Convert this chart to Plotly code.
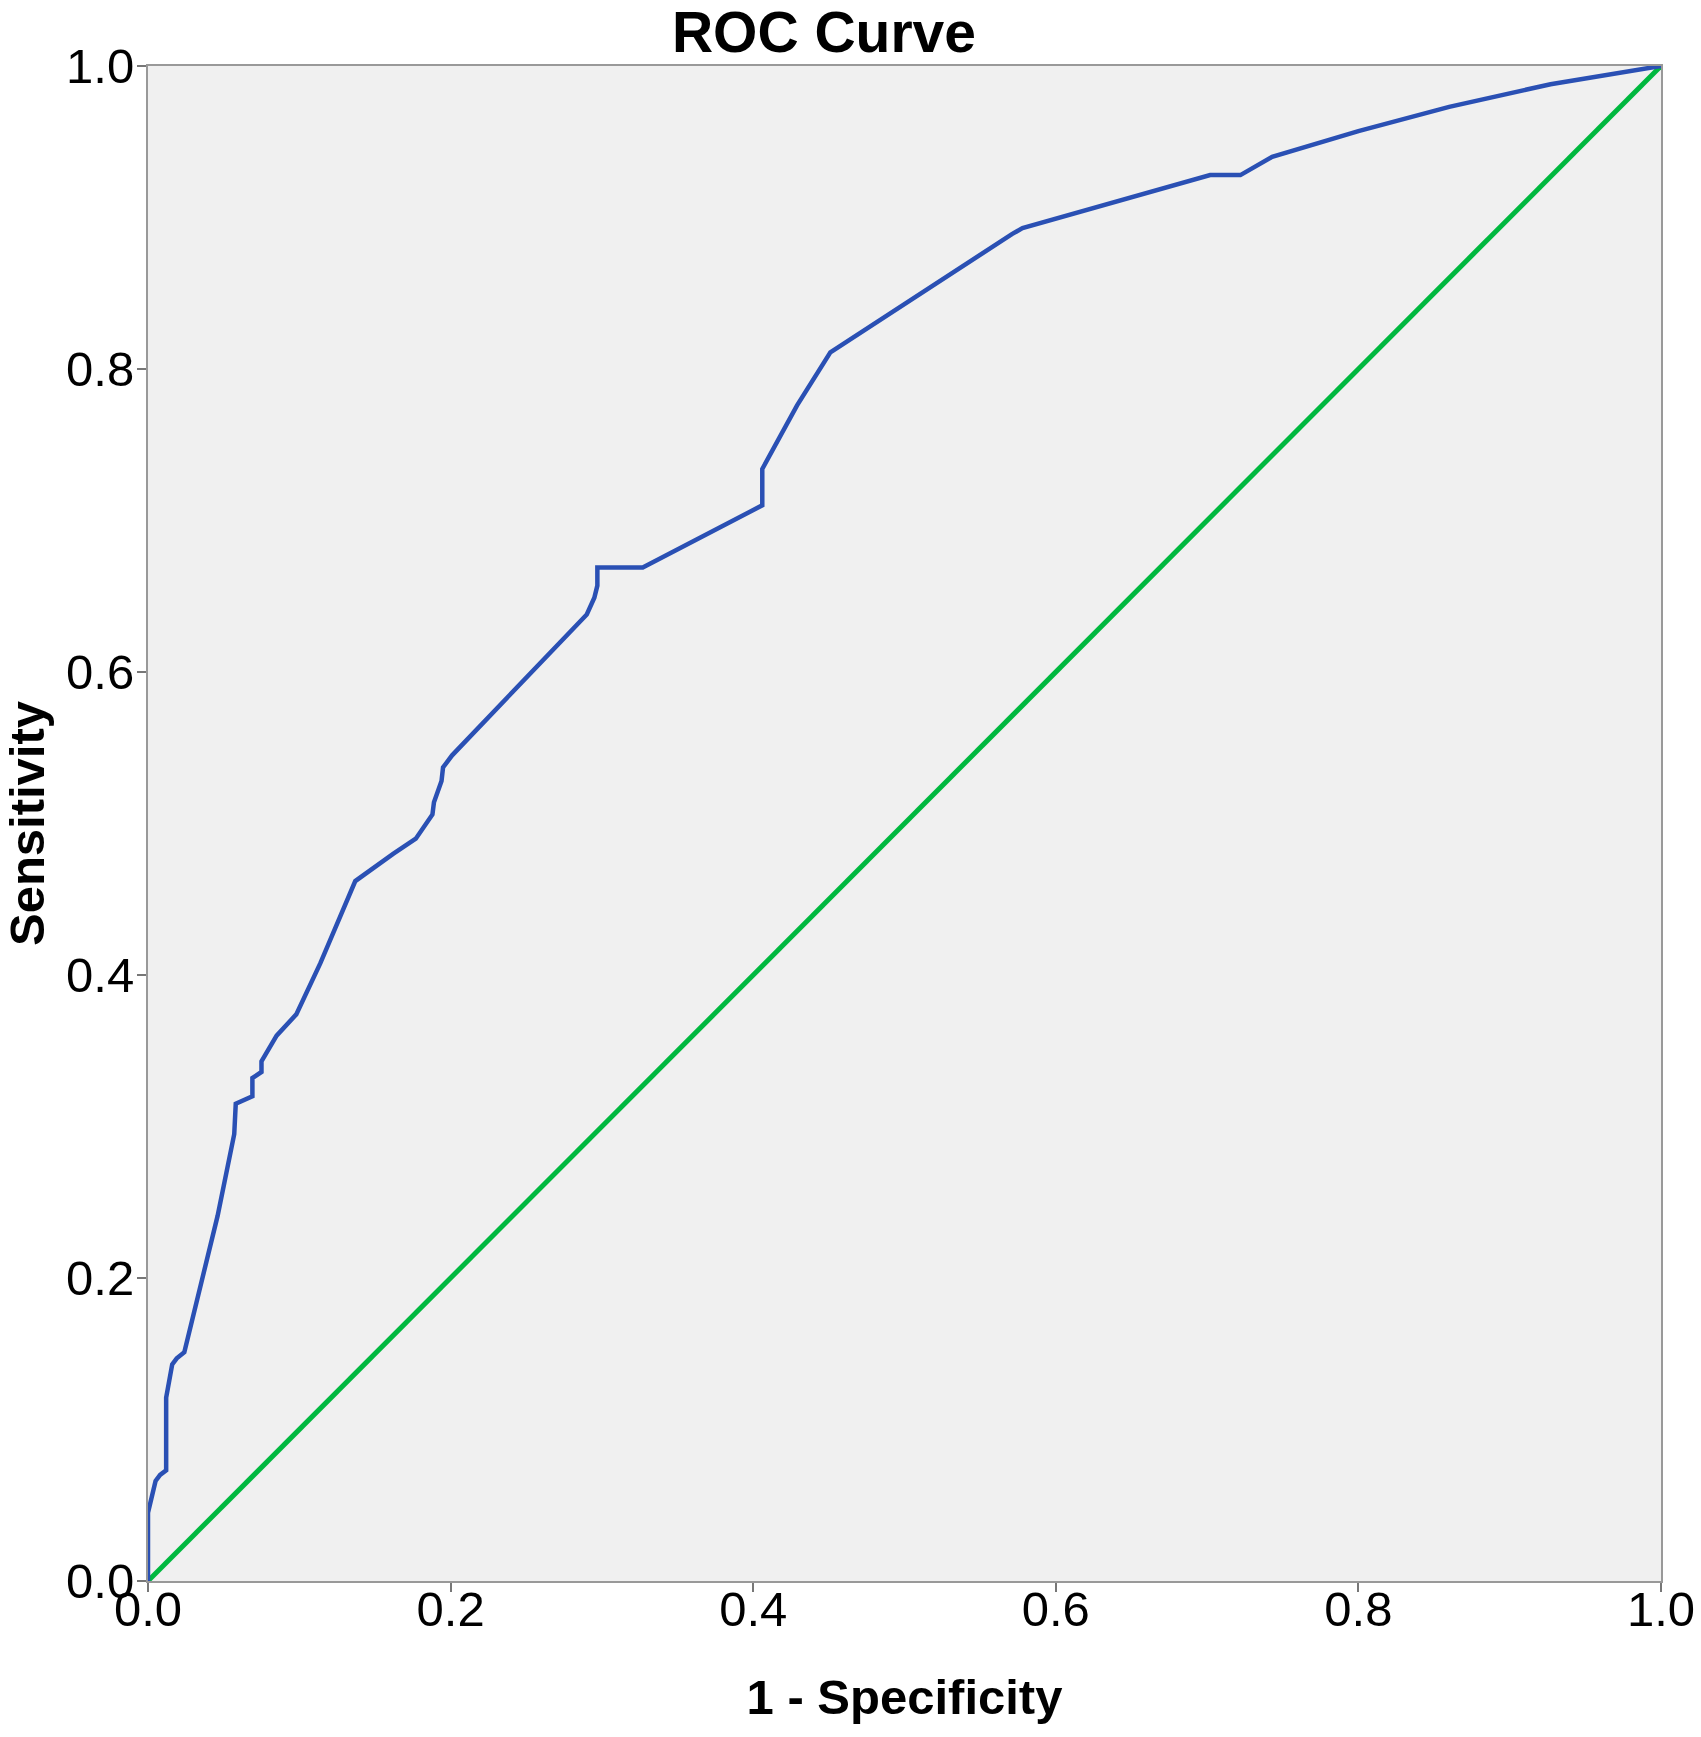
import plotly.graph_objects as go

# ROC curve points
fpr = [0, 0, 0.005, 0.008, 0.012, 0.012, 0.016, 0.019, 0.024, 0.046, 0.057, 0.058,
       0.069, 0.069, 0.075, 0.075, 0.085, 0.098, 0.114, 0.137, 0.162, 0.177, 0.188,
       0.189, 0.194, 0.195, 0.201, 0.290, 0.295, 0.297, 0.297, 0.327, 0.406, 0.406,
       0.429, 0.451, 0.571, 0.578, 0.702, 0.722, 0.743, 0.800, 0.860, 0.927, 1.0]
tpr = [0, 0.045, 0.066, 0.070, 0.073, 0.121, 0.143, 0.147, 0.151, 0.241, 0.295, 0.315,
       0.320, 0.332, 0.336, 0.343, 0.360, 0.374, 0.408, 0.462, 0.480, 0.490, 0.506,
       0.514, 0.528, 0.537, 0.545, 0.638, 0.649, 0.657, 0.669, 0.669, 0.710, 0.734,
       0.776, 0.811, 0.889, 0.893, 0.928, 0.928, 0.940, 0.957, 0.973, 0.988, 1.0]

# Reference (chance) line
ref_x = [0, 1]
ref_y = [0, 1]

tick_vals = [0, 0.2, 0.4, 0.6, 0.8, 1.0]
tick_text = ["0.0", "0.2", "0.4", "0.6", "0.8", "1.0"]

FONT = "Liberation Sans, Arial, sans-serif"

fig = go.Figure()
fig.add_trace(go.Scatter(x=ref_x, y=ref_y, mode="lines",
                         line=dict(color="#00b83f", width=5),
                         showlegend=False, hoverinfo="skip"))
fig.add_trace(go.Scatter(x=fpr, y=tpr, mode="lines",
                         line=dict(color="#2a50b4", width=4.5),
                         showlegend=False))

axis_common = dict(
    range=[0, 1],
    tickvals=tick_vals,
    ticktext=tick_text,
    ticks="outside",
    ticklen=9,
    tickwidth=2,
    tickcolor="#777777",
    showline=True,
    linecolor="#999999",
    linewidth=2,
    mirror=True,
    showgrid=False,
    zeroline=False,
    automargin=False,
    tickfont=dict(family=FONT, size=49, color="#000000"),
)

fig.update_layout(
    width=1701,
    height=1737,
    margin=dict(l=148, r=40, t=66, b=156),
    paper_bgcolor="#ffffff",
    plot_bgcolor="#f0f0f0",
    title=dict(text="<b>ROC Curve</b>", x=824 / 1701, xanchor="center",
               xref="container",
               y=1 - 32 / 1737, yanchor="middle",
               font=dict(family=FONT, size=57, color="#000000")),
    xaxis=dict(**axis_common,
               ticklabelstandoff=-25,
               title=dict(text="<b>1 - Specificity</b>", standoff=45,
                          font=dict(family=FONT, size=49, color="#000000"))),
    yaxis=dict(**axis_common,
               ticklabelstandoff=-7,
               title=dict(text="<b>Sensitivity</b>", standoff=34,
                          font=dict(family=FONT, size=49, color="#000000"))),
)

fig.write_html(
    "out.html",
    config={"displayModeBar": False},
    post_script="document.body.style.margin='0px';document.body.style.overflow='hidden';",
)
